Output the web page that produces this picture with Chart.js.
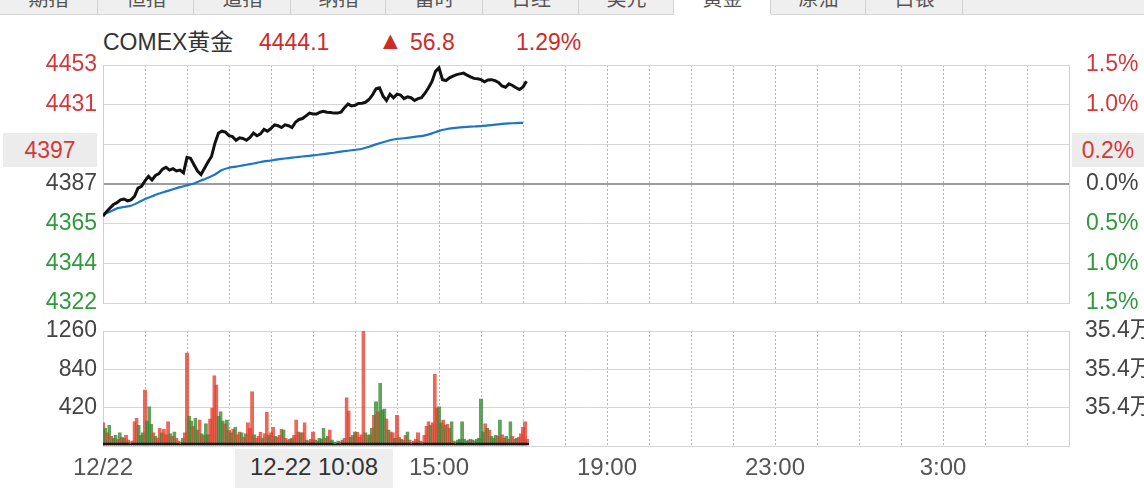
<!DOCTYPE html>
<html>
<head>
<meta charset="utf-8">
<script src="https://cdn.jsdelivr.net/npm/chart.js@4.4.1/dist/chart.umd.min.js"></script>
<style>
  body { margin: 0; background: #fff; font-family: "Liberation Sans", Arial, "Noto Sans CJK SC", sans-serif; }
  #wrap { position: relative; width: 1144px; height: 488px; overflow: hidden; }
  .tabs { position: absolute; left: 0; top: 0; width: 1144px; height: 14px; background: #efefef; border-bottom: 1px solid #d6d6d6; }
  .tab { position: absolute; top: 0; height: 14px; border-left: 1px solid #d2d2d2; overflow: hidden; color: #555; font-size: 20px; line-height: 20px; text-align: center; }
  .tab span { position: relative; top: -11px; }
  .tab.on { background: #fff; height: 15px; }
  canvas { position: absolute; left: 0; }
  .hd { position: absolute; top: 29px; font-size: 23px; line-height: 26px; white-space: nowrap; }
  .box { position: absolute; background: #ececec; font-size: 23px; text-align: center; white-space: nowrap; }
</style>
</head>
<body>
<div id="wrap">
  <div class="tabs" id="tabs"></div>

  <div class="hd" style="left:103px;color:#333">COMEX黄金</div>
  <div class="hd" style="left:259px;color:#cf2b2b">4444.1</div>
  <div class="hd" style="left:378px;top:27px;color:#cf2b2b;font-size:25px">▲</div>
  <div class="hd" style="left:410px;color:#cf2b2b">56.8</div>
  <div class="hd" style="left:516px;color:#cf2b2b">1.29%</div>

  <canvas id="priceChart" width="1144" height="330" style="top:0"></canvas>
  <canvas id="volChart" width="1144" height="188" style="top:300px"></canvas>

  <div class="box" style="left:3px;top:133px;width:94px;height:34px;line-height:34px;color:#d4383a">4397</div>
  <div class="box" style="left:1072px;top:133px;width:72px;height:34px;line-height:34px;color:#d4383a">0.2%</div>
  <div class="box" style="left:235px;top:449px;width:158px;height:39px;line-height:36px;color:#333;font-size:24px;background:#eeeeee">12-22 10:08</div>
</div>

<script>
// ---- data ----
const prevClose = 4387.3;

// tabs across the top strip
const tabNames = ['期指', '恒指', '道指', '纳指', '富时', '日经', '美元', '黄金', '原油', '白银'];
const tabEdges = [0, 97, 193, 290, 385, 482, 578, 673, 770, 865, 962];
const activeTab = 7;

// last price, every 5 minutes from 7:00
const priceStep = 5;
const prices = [
  4369.5, 4372, 4374, 4376, 4377, 4378.5, 4379, 4378, 4378.5, 4380.5,
  4385, 4386, 4389, 4391.5, 4389.5, 4392, 4393, 4395.5, 4396.5, 4395,
  4395.8, 4394.5, 4395, 4393.5, 4402, 4401.5, 4398, 4394.5, 4392.5, 4396,
  4399.5, 4402.5, 4410, 4415.5, 4416.5, 4416, 4414, 4413.5, 4411.5, 4412.8,
  4412.5, 4411.5, 4413, 4415.5, 4414, 4415, 4417.5, 4416.5, 4418, 4420,
  4419.5, 4418.5, 4420, 4419.5, 4418.5, 4421.5, 4423, 4423.5, 4425, 4426.5,
  4426, 4426, 4427, 4427.5, 4427, 4426.8, 4426.5, 4426.5, 4427, 4429.5,
  4431.5, 4430.5, 4430.8, 4431.8, 4432, 4432.5, 4434, 4436.5, 4440, 4440.5,
  4436, 4433.5, 4437, 4435, 4437, 4436.5, 4434.5, 4435.5, 4435, 4433.5,
  4434.5, 4435, 4437.5, 4440.5, 4444, 4449.6, 4451.5, 4445, 4444.5, 4446,
  4447, 4447.8, 4448.2, 4448.6, 4447.5, 4446.5, 4445.7, 4445.5, 4445, 4443.8,
  4444.8, 4445, 4444.5, 4443.5, 4441.5, 4440.8, 4442.7, 4441.8, 4440.5, 4439.6,
  4441, 4444.1
];

// average price, every 10 minutes
const avgStep = 10;
const avgPrices = [
  4370.5, 4372, 4373.8, 4374.6, 4375.3, 4377, 4379, 4380.5, 4382, 4383.2,
  4384.4, 4385.6, 4386.6, 4387.6, 4389.2, 4390.8, 4392.6, 4395, 4396.3, 4396.9,
  4397.6, 4398.3, 4399, 4399.8, 4400.3, 4400.9, 4401.4, 4401.9, 4402.3, 4402.7,
  4403.1, 4403.6, 4404.1, 4404.6, 4405.2, 4405.7, 4406.2, 4406.8, 4407.9, 4409.2,
  4410.4, 4411.5, 4412.2, 4412.6, 4413.1, 4413.6, 4414.2, 4415.3, 4416.7, 4417.6,
  4418.2, 4418.6, 4418.9, 4419.1, 4419.3, 4419.7, 4420.1, 4420.5, 4420.8, 4421, 4421.1
];

// volume, every 3 minutes; r = up bar, g = down bar
const volStep = 3;
const volumes = [
  260, 200, 150, 230, 110, 90, 120, 80, 150, 100,
  90, 120, 70, 50, 60, 270, 310, 230, 120, 150,
  620, 280, 435, 240, 150, 110, 90, 200, 150, 190,
  130, 270, 140, 110, 160, 90, 60, 50, 90, 150,
  1025, 330, 280, 220, 310, 180, 290, 140, 120, 250,
  130, 300, 420, 775, 675, 330, 380, 280, 250, 290,
  180, 150, 190, 210, 130, 160, 150, 100, 140, 260,
  200, 600, 130, 90, 110, 155, 90, 140, 372, 120,
  150, 210, 110, 100, 120, 190, 180, 90, 70, 80,
  90, 120, 290, 160, 150, 150, 260, 70, 60, 80,
  160, 70, 60, 90, 80, 200, 90, 110, 180, 70,
  50, 40, 60, 50, 70, 90, 535, 390, 100, 120,
  160, 155, 100, 130, 1260, 150, 120, 130, 200, 340,
  490, 380, 690, 400, 410, 300, 180, 160, 150, 90,
  340, 100, 80, 70, 120, 160, 70, 50, 60, 80,
  150, 60, 50, 120, 220, 270, 230, 260, 790, 420,
  435, 260, 290, 230, 240, 200, 270, 60, 50, 70,
  80, 270, 80, 60, 70, 80, 70, 60, 80, 90,
  520, 160, 250, 200, 180, 110, 90, 120, 110, 290,
  130, 90, 110, 80, 270, 110, 80, 90, 100, 140,
  210, 270, 80
];
const volDirs = (
  'rgrgrggrgr' + 'grrgrrrggg' + 'rgggrgrrgr' + 'rrgrgrrggr' + 'rggrggrgrg' +
  'grrrrgggrg' + 'rgrgrrgrgr' + 'rrgrrrgrrg' + 'rrgrrrgrrr' + 'grrrgrrgrr' +
  'rgrgggrgrg' + 'gggrgrrrgr' + 'grrrrgrggr' + 'grgggrgrrg' + 'rrgrrgrgrr' +
  'rgrrrrgrrr' + 'ggrgrrgrgg' + 'gggggrgggg' + 'ggrgrgggrg' + 'rrgrgrrgrr' + 'rrr'
).split('');

// axis labels
const pctSteps = [-1.5, -1, -0.5, 0, 0.5, 1, 1.5];
const leftLabels = ['4322', '4344', '4365', '4387', '', '4431', '4453'];
const rightLabels = ['1.5%', '1.0%', '0.5%', '0.0%', '', '1.0%', '1.5%'];
const volTicks = [0, 420, 840, 1260];
const volLabels = ['', '420', '840', '1260'];
const volRightLabels = ['', '35.4万', '35.4万', '35.4万'];
const sessionMinutes = 1380;            // 7:00 -> 6:00 next day
const timeLabels = ['12/22', '', '15:00', '19:00', '23:00', '3:00'];  // every 4 hours

// ---- styles ----
const RED = '#d4383a', GREEN = '#2e9a3c', GRAY = '#444';
const FONT = { family: '"Liberation Sans", Arial, "Noto Sans CJK SC", sans-serif', size: 23 };
const levelColor = i => (i < 3 ? GREEN : i === 3 ? GRAY : RED);
const hideEdges = ctx => {
  const v = ctx.tick ? ctx.tick.value : -1;
  return (v <= 0 || v >= sessionMinutes) ? 'rgba(0,0,0,0)' : '#b4b4b4';
};

// tabs
const tabsEl = document.getElementById('tabs');
tabNames.forEach((name, i) => {
  const d = document.createElement('div');
  d.className = 'tab' + (i === activeTab ? ' on' : '');
  d.style.left = tabEdges[i] + 'px';
  d.style.width = (tabEdges[i + 1] - tabEdges[i]) + 'px';
  if (i === 0) d.style.borderLeft = 'none';
  d.innerHTML = '<span>' + name + '</span>';
  tabsEl.appendChild(d);
});
const tail = document.createElement('div');
tail.className = 'tab';
tail.style.left = tabEdges[tabEdges.length - 1] + 'px';
tail.style.width = (1144 - tabEdges[tabEdges.length - 1]) + 'px';
tabsEl.appendChild(tail);

// x axis shared bits
function timeAxis(showLabels) {
  return {
    type: 'linear', min: 0, max: sessionMinutes, offset: false,
    afterBuildTicks: s => { s.ticks = []; for (let m = 0; m <= sessionMinutes; m += 60) s.ticks.push({ value: m }); },
    afterFit: s => { s.height = showLabels ? 42 : 0; },
    grid: { color: hideEdges, lineWidth: 1, drawTicks: false, offset: false },
    border: { display: false, dash: [2, 2] },
    ticks: {
      display: showLabels, autoSkip: false, maxRotation: 0, padding: 8,
      color: '#555', font: { family: FONT.family, size: 24 },
      callback: v => (v % 240 === 0 ? timeLabels[v / 240] : '')
    }
  };
}

const priceTicks = pctSteps.map(p => prevClose * (1 + p / 100));
const pMin = priceTicks[0], pMax = priceTicks[priceTicks.length - 1];

new Chart(document.getElementById('priceChart'), {
  type: 'line',
  data: {
    datasets: [
      { label: 'price', data: prices.map((v, i) => ({ x: i * priceStep, y: v })),
        borderColor: '#111', borderWidth: 3, pointRadius: 0, tension: 0 },
      { label: 'avg', data: avgPrices.map((v, i) => ({ x: i * avgStep, y: v })),
        borderColor: '#1d76c8', borderWidth: 2.2, pointRadius: 0, tension: 0.2 }
    ]
  },
  options: {
    responsive: false, animation: false, devicePixelRatio: 1,
    layout: { padding: { top: 65, bottom: 27, left: 0, right: 0 } },
    plugins: { legend: { display: false }, tooltip: { enabled: false } },
    scales: {
      x: timeAxis(false),
      y: {
        position: 'left', min: pMin, max: pMax,
        afterBuildTicks: s => { s.ticks = priceTicks.map(v => ({ value: v })); },
        afterFit: s => { s.width = 103; },
        grid: { color: c => (c.index === 3 ? '#9c9c9c' : '#d6d6d6'), lineWidth: c => (c.index === 3 ? 2 : 1), drawTicks: false },
        border: { display: true, color: '#cfcfcf' },
        ticks: { padding: 6, font: FONT, color: c => levelColor(c.index), callback: (v, i) => leftLabels[i] }
      },
      y2: {
        position: 'right', min: pMin, max: pMax,
        afterBuildTicks: s => { s.ticks = priceTicks.map(v => ({ value: v })); },
        afterFit: s => { s.width = 75; },
        grid: { display: false },
        border: { display: true, color: '#cfcfcf' },
        ticks: { padding: 9, font: FONT, color: c => levelColor(c.index), callback: (v, i) => rightLabels[i] }
      }
    }
  }
});

new Chart(document.getElementById('volChart'), {
  type: 'bar',
  data: {
    datasets: [
      { label: 'vol', data: volumes.map((v, i) => ({ x: i * volStep, y: v })),
        backgroundColor: volDirs.map(d => (d === 'r' ? 'rgba(230,62,44,0.78)' : 'rgba(52,136,46,0.78)')),
        borderColor: '#1a1a1a', borderSkipped: false, inflateAmount: 0,
        borderWidth: { top: 0, left: 0, right: 0, bottom: 3 },
        barThickness: 4 }
    ]
  },
  options: {
    responsive: false, animation: false, devicePixelRatio: 1,
    layout: { padding: { top: 31, bottom: 0, left: 0, right: 0 } },
    plugins: { legend: { display: false }, tooltip: { enabled: false } },
    scales: {
      x: timeAxis(true),
      y: {
        position: 'left', min: 0, max: volTicks[volTicks.length - 1],
        afterBuildTicks: s => { s.ticks = volTicks.map(v => ({ value: v })); },
        afterFit: s => { s.width = 103; },
        grid: { color: '#d6d6d6', drawTicks: false },
        border: { display: true, color: '#cfcfcf' },
        ticks: { padding: 6, font: FONT, color: GRAY, callback: (v, i) => volLabels[i] }
      },
      y2: {
        position: 'right', min: 0, max: volTicks[volTicks.length - 1],
        afterBuildTicks: s => { s.ticks = volTicks.map(v => ({ value: v })); },
        afterFit: s => { s.width = 75; },
        grid: { display: false },
        border: { display: true, color: '#cfcfcf' },
        ticks: { padding: 8, font: FONT, color: GRAY, callback: (v, i) => volRightLabels[i] }
      }
    }
  }
});
</script>
</body>
</html>
